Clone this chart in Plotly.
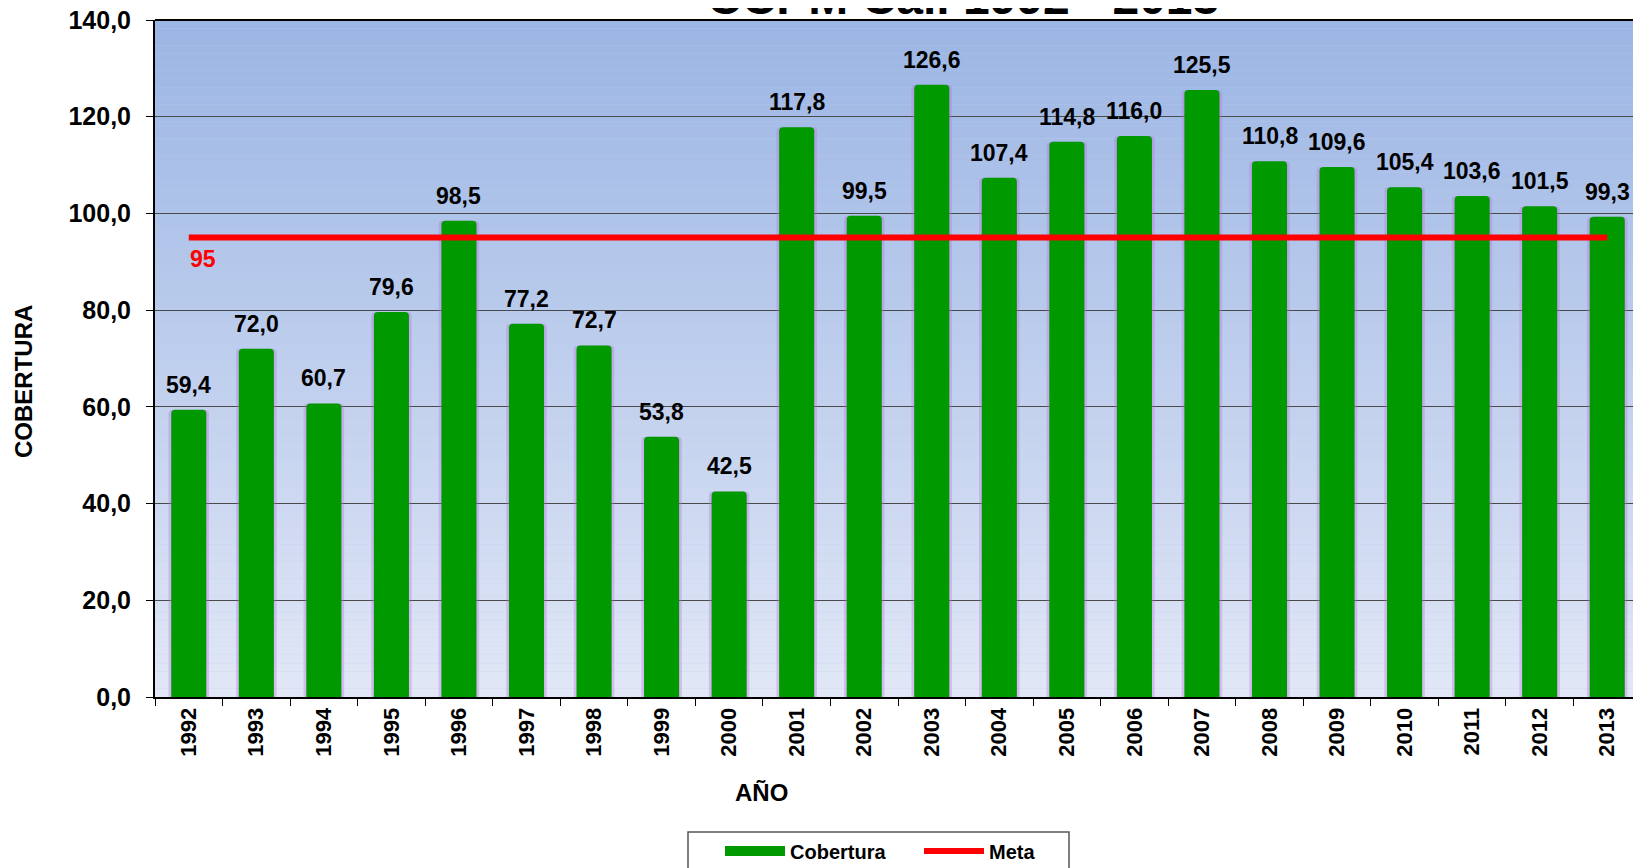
import plotly.graph_objects as go

years = [str(y) for y in range(1992, 2014)]
cobertura = [59.4, 72.0, 60.7, 79.6, 98.5, 77.2, 72.7, 53.8, 42.5, 117.8, 99.5,
             126.6, 107.4, 114.8, 116.0, 125.5, 110.8, 109.6, 105.4, 103.6, 101.5, 99.3]
meta = [95] * len(years)
labels = [f"{v:.1f}".replace(".", ",") for v in cobertura]

FONT = "Liberation Sans, Arial, sans-serif"
OFF = 8  # page body margin
W, H = 1633, 860
L, R, T, B = 155 - OFF, 0, 20 - OFF, 171
PW, PH = W - L - R, H - T - B


def px(xp):
    return (xp - OFF - L) / PW


def py(yp):
    return (H - B - (yp - OFF)) / PH


fig = go.Figure()

# soft violet glow behind bars
fig.add_trace(go.Bar(x=years, y=cobertura, width=0.6,
                     marker=dict(color="rgba(190,110,230,0.35)", line=dict(width=0), cornerradius=4),
                     showlegend=False, hoverinfo="skip"))
fig.add_trace(go.Bar(x=years, y=cobertura, width=0.52, name="Cobertura",
                     marker=dict(color="#009900", line=dict(width=0), cornerradius=4),
                     showlegend=False))
# legend proxy for bars
fig.add_trace(go.Scatter(x=[None], y=[None], mode="lines", name="Cobertura",
                         line=dict(color="#009900", width=16)))
fig.add_trace(go.Scatter(x=years, y=meta, mode="lines", name="Meta",
                         line=dict(color="#FF0000", width=6)))

# background gradient
shapes = []
n = 80
top = (155, 181, 228)
bot = (225, 231, 246)
for i in range(n):
    t = i / (n - 1)
    c = tuple(round(top[k] + (bot[k] - top[k]) * t) for k in range(3))
    shapes.append(dict(type="rect", xref="paper", yref="paper", x0=0, x1=1,
                       y0=1 - (i + 1) / n, y1=1 - i / n, fillcolor=f"rgb{c}",
                       line=dict(width=0), layer="below"))
# top border of plot area
shapes.append(dict(type="line", xref="paper", yref="paper", x0=0, x1=1, y0=1, y1=1,
                   line=dict(color="black", width=2)))
# legend frame
shapes.append(dict(type="rect", xref="paper", yref="paper", x0=px(688), x1=px(1069),
                   y0=py(880), y1=py(832), line=dict(color="#555", width=1.5),
                   fillcolor="white"))

annotations = [
    dict(text="CCPM Cali 1992 - 2013", xref="paper", yref="paper", x=px(963), y=1,
         yanchor="bottom", yshift=-6, showarrow=False,
         font=dict(family=FONT, size=48, color="black", weight="bold")),
    dict(text="95", xref="x", yref="y", x=0, y=95, xshift=14, yshift=-21,
         showarrow=False, font=dict(family=FONT, size=23, color="#FF0000", weight="bold")),
    dict(text="COBERTURA", xref="paper", yref="paper", x=px(23), y=py(382),
         xanchor="center", yanchor="middle",
         textangle=-90, showarrow=False,
         font=dict(family=FONT, size=24, color="black", weight="bold")),
    dict(text="AÑO", xref="paper", yref="paper", x=px(761), y=py(792),
         xanchor="center", yanchor="middle",
         showarrow=False, font=dict(family=FONT, size=24, color="black", weight="bold")),
]
for i, (v, lab) in enumerate(zip(cobertura, labels)):
    annotations.append(dict(text=lab, xref="x", yref="y", x=i, y=v, yanchor="bottom",
                            yshift=10, showarrow=False,
                            font=dict(family=FONT, size=23, color="black", weight="bold")))

fig.update_layout(
    width=W, height=H,
    margin=dict(l=L, r=R, t=T, b=B, autoexpand=False),
    paper_bgcolor="white", plot_bgcolor="rgb(190,205,236)",
    barmode="overlay",
    separators=",.",
    font=dict(family=FONT, color="black"),
    shapes=shapes, annotations=annotations,
    legend=dict(orientation="h", x=px(720), xanchor="left", y=py(851), yanchor="middle",
                bgcolor="rgba(0,0,0,0)", borderwidth=0,
                font=dict(family=FONT, size=20, color="black", weight="bold"),
                itemwidth=60, entrywidth=124),
    showlegend=True,
)
fig.update_xaxes(type="category", categoryorder="array", categoryarray=years,
                 range=[-0.5, len(years) - 0.5], autorange=False, automargin=False,
                 tickangle=-90, tickson="boundaries", ticklabeloverflow="allow",
                 ticks="outside", ticklen=7, tickcolor="black",
                 showline=True, linecolor="black", linewidth=2,
                 tickfont=dict(family=FONT, size=22, color="black", weight="bold"),
                 showgrid=False)
fig.update_yaxes(range=[0, 140], dtick=20, tickformat=".1f", automargin=False,
                 ticklabeloverflow="allow",
                 ticks="outside", ticklen=7, tickcolor="black", ticklabelstandoff=10,
                 showline=True, linecolor="black", linewidth=2,
                 gridcolor="#4a4a4a", gridwidth=1, zeroline=False,
                 tickfont=dict(family=FONT, size=25, color="black", weight="bold"))

fig.write_html("out.html")
